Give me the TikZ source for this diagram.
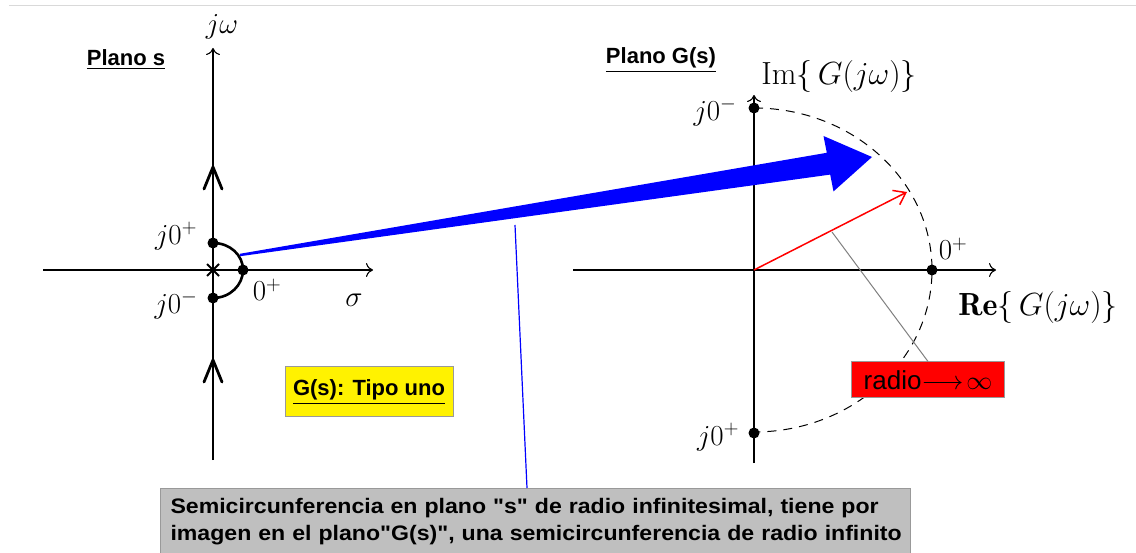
\RequirePackage{fix-cm}
\documentclass[tikz,border=0pt]{standalone}
\usepackage{amsmath}
\usepackage{fontspec}
\newfontfamily\arial{Liberation Sans}
\newfontfamily\arialwide[FakeStretch=1.1]{Liberation Sans}
\usetikzlibrary{arrows.meta,calc}
\begin{document}
\begin{tikzpicture}[x=1pt,y=-1pt,
  dot/.style={circle,fill=black,inner sep=0pt,minimum size=11pt},
  lbl/.style={inner sep=0pt,font=\fontsize{29}{32}\selectfont},
  biglbl/.style={inner sep=0pt,font=\fontsize{32}{36}\selectfont},
  plane/.style={inner sep=0pt,font=\arial\bfseries\fontsize{22}{26}\selectfont},
  axis/.style={line width=1.1pt,-{To[length=7pt,width=14pt]}},
  thickline/.style={line width=2.6pt},
  barb/.style={line width=2.8pt,line cap=round,line join=round},
  box/.style={draw=gray!80,line width=1pt,inner sep=0pt}]
\useasboundingbox (0,0) rectangle (1136,553);
\fill[white] (0,0) rectangle (1136,553);
\draw[gray!30,line width=1pt] (9,6) -- (1136,6);

% ---------- s plane ----------
\coordinate (sO) at (213,270);
\coordinate (sTop) at (213,48);
\coordinate (sBot) at (213,460);
\coordinate (sL) at (43,270);
\coordinate (sR) at (373,270);
\draw[axis] (sBot) -- (sTop);
\draw[axis] (sL) -- (sR);
\draw[thickline] (213,105) -- (213,430);
\draw[barb] (204,189) -- (213,167) -- (222,189);
\draw[barb] (204,382) -- (213,360) -- (222,382);
\node[dot] (jp) at (213,243) {};
\node[dot] (jm) at (213,298) {};
\node[dot] (zp) at (243,270) {};
\draw[line width=2pt] (207,264) -- (219,276) (207,276) -- (219,264);
\draw[thickline] (jp.center) .. controls (230,243) and (243,255) .. (zp.center)
   .. controls (243,285) and (230,298) .. (jm.center);
\node[lbl] (jw) at (222,27) {$j\omega$};
\node[lbl] (ljp) at (176,236) {$j0^{+}$};
\node[lbl] (ljm) at (176,305) {$j0^{-}$};
\node[lbl] (lzp) at (267,290) {$0^{+}$};
\node[lbl] (sig) at (354,300) {$\sigma$};
\node[plane] (ps) at (126,60) {\underline{Plano s}};

% ---------- G plane ----------
\coordinate (gO) at (754,270);
\draw[axis] (754,463) -- (754,95);
\draw[axis] (573,270) -- (996,270);
\draw[dashed,dash pattern=on 9pt off 7pt,line width=1pt] (754,108) arc[start angle=-90,end angle=90,x radius=178,y radius=162];
\node[dot] (gjm) at (754,108) {};
\node[dot] (gjp) at (754,433) {};
\node[dot] (gzp) at (932,270) {};
\node[lbl] (lgjm) at (715,112) {$j0^{-}$};
\node[lbl] (lgjp) at (718,437) {$j0^{+}$};
\node[lbl] (lgzp) at (953,249) {$0^{+}$};
\node[biglbl] (im) at (839,77) {$\mathrm{Im}\{\,G(j\omega)\}$};
\node[biglbl] (re) at (1038,308) {$\mathbf{Re}\{\,G(j\omega)\}$};
\node[plane] (pg) at (661,60) {\underline{Plano G(s)}};
\coordinate (rtip) at (907,192);
\draw[red,line width=1.5pt,-{Straight Barb[length=11pt,width=16pt]}] (gO) -- (rtip);
\coordinate (rmid) at (832,232);
\node[box,fill=red,minimum width=153pt,minimum height=36pt] (radio) at (928,380)
  {\arial\fontsize{26}{28}\selectfont radio$\longrightarrow\!\infty$};
\draw[gray,line width=1pt] (rmid) -- (radio.north);

% ---------- blue map arrow ----------
\coordinate (bs) at (240,255);
\fill[blue] (239.8,253.8) -- (826.8,152.8) -- (823.5,136) -- (872,157)
   -- (833.5,191.4) -- (830.2,174.6) -- (240.2,256.2) -- cycle;

% ---------- boxes ----------
\node[box,fill=yellow,minimum width=168pt,minimum height=50pt] (tipo) at (369,392)
  {\arial\bfseries\fontsize{22}{26}\selectfont\underline{G(s): Tipo uno}};
\node[box,fill=gray!50,anchor=north west,minimum width=750pt,minimum height=66pt,
  text width=730pt,align=left,inner xsep=10pt,inner ysep=5pt,
  font=\arialwide\bfseries\fontsize{21}{27}\selectfont] (semi) at (160,488)
  {\mbox{Semicircunferencia en plano "s" de radio infinitesimal, tiene por}\\\mbox{imagen en el plano"G(s)", una semicircunferencia de radio infinito}};
\coordinate (bl) at (515,225);
\draw[blue,line width=1.2pt] (bl) -- (semi.north -| 527,0);
\end{tikzpicture}
\end{document}
